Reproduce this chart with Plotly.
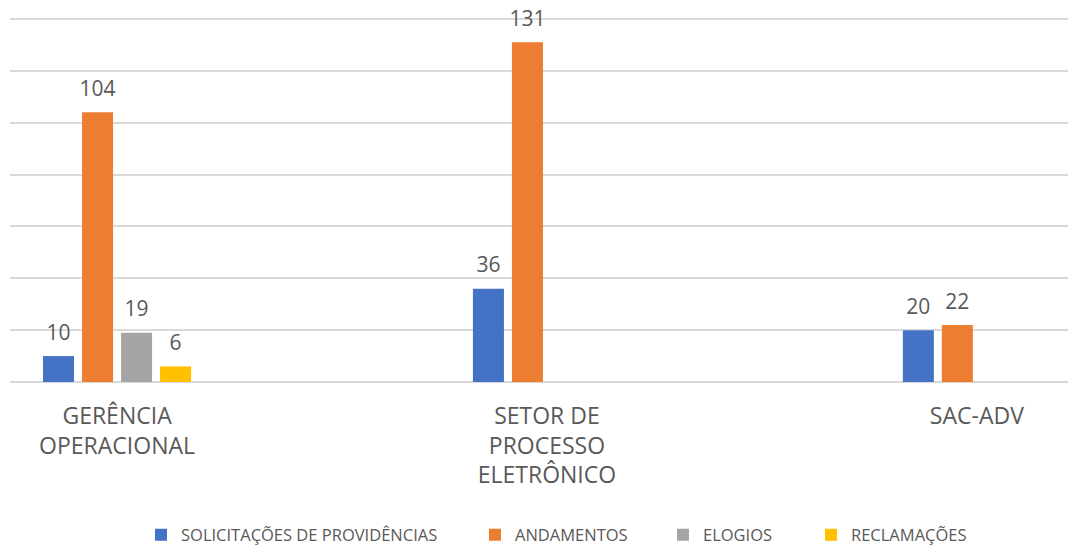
import plotly.graph_objects as go

# ---------------------------------------------------------------------------
# Data
# ---------------------------------------------------------------------------
CATEGORIES = ["GERÊNCIA<br>OPERACIONAL", "SETOR DE<br>PROCESSO<br>ELETRÔNICO", "SAC-ADV"]
SOLICITACOES = [10, 36, 20]
ANDAMENTOS = [104, 131, 22]
ELOGIOS = [19, None, None]
RECLAMACOES = [6, None, None]

SERIES = [
    ("SOLICITAÇÕES DE PROVIDÊNCIAS", SOLICITACOES, "#4472C4"),
    ("ANDAMENTOS", ANDAMENTOS, "#ED7D31"),
    ("ELOGIOS", ELOGIOS, "#A5A5A5"),
    ("RECLAMAÇÕES", RECLAMACOES, "#FFC000"),
]

FONT = "Open Sans, Noto Sans, sans-serif"
TEXT_COLOR = "#595959"

# the page sits 8 px in from the corner of the window
ML, MR, MT, MB = 2, 18, 10, 161
PLOT_W = 1058
PLOT_H = 364
PLOT_BOTTOM = 382

# legend square positions (px) in the reference, one legend per series
LEGEND_PX = [157, 491, 679, 827]
LEGEND_NAMES = ["legend", "legend2", "legend3", "legend4"]

fig = go.Figure()
for (name, vals, color), lg in zip(SERIES, LEGEND_NAMES):
    fig.add_trace(go.Bar(
        x=CATEGORIES,
        y=vals,
        name=name,
        legend=lg,
        offsetgroup=name,
        marker=dict(color=color, line=dict(width=0)),
    ))
# value labels, grouped like the bars (invisible marker lifts the text)
for name, vals, color in SERIES:
    fig.add_trace(go.Scatter(
        x=CATEGORIES,
        y=vals,
        mode="markers+text",
        offsetgroup=name,
        text=[str(v) if v is not None else "" for v in vals],
        textposition="top center",
        textfont=dict(size=21, color=TEXT_COLOR, family=FONT),
        marker=dict(size=16, color="rgba(0,0,0,0)"),
        showlegend=False,
        hoverinfo="skip",
        cliponaxis=False,
    ))

legends = {}
for lg, px in zip(LEGEND_NAMES, LEGEND_PX):
    legends[lg] = dict(
        orientation="h",
        x=(px - 16 - 10) / PLOT_W, xanchor="left",
        y=-(535 - PLOT_BOTTOM) / PLOT_H, yanchor="middle",
        font=dict(size=16.5, color=TEXT_COLOR),
        bgcolor="rgba(0,0,0,0)",
    )

fig.update_layout(
    width=1078,
    height=546,
    paper_bgcolor="white",
    plot_bgcolor="white",
    barmode="group",
    bargap=0.637,
    bargroupgap=0.205,
    scattermode="group",
    scattergap=0.637,
    font=dict(family=FONT, color=TEXT_COLOR),
    margin=dict(l=ML, r=MR, t=MT, b=MB),
    showlegend=True,
    **legends,
    xaxis=dict(
        type="category",
        range=[-0.249, 2.212],
        showgrid=False,
        showline=False,
        zeroline=False,
        ticks="outside",
        ticklen=13,
        tickcolor="rgba(0,0,0,0)",
        tickfont=dict(size=23, color=TEXT_COLOR),
    ),
    yaxis=dict(
        range=[0, 140.4],
        dtick=20,
        showticklabels=False,
        gridcolor="#D9D9D9",
        gridwidth=2,
        zeroline=True,
        zerolinecolor="#D9D9D9",
        zerolinewidth=2,
    ),
)

fig.write_html("out.html")
